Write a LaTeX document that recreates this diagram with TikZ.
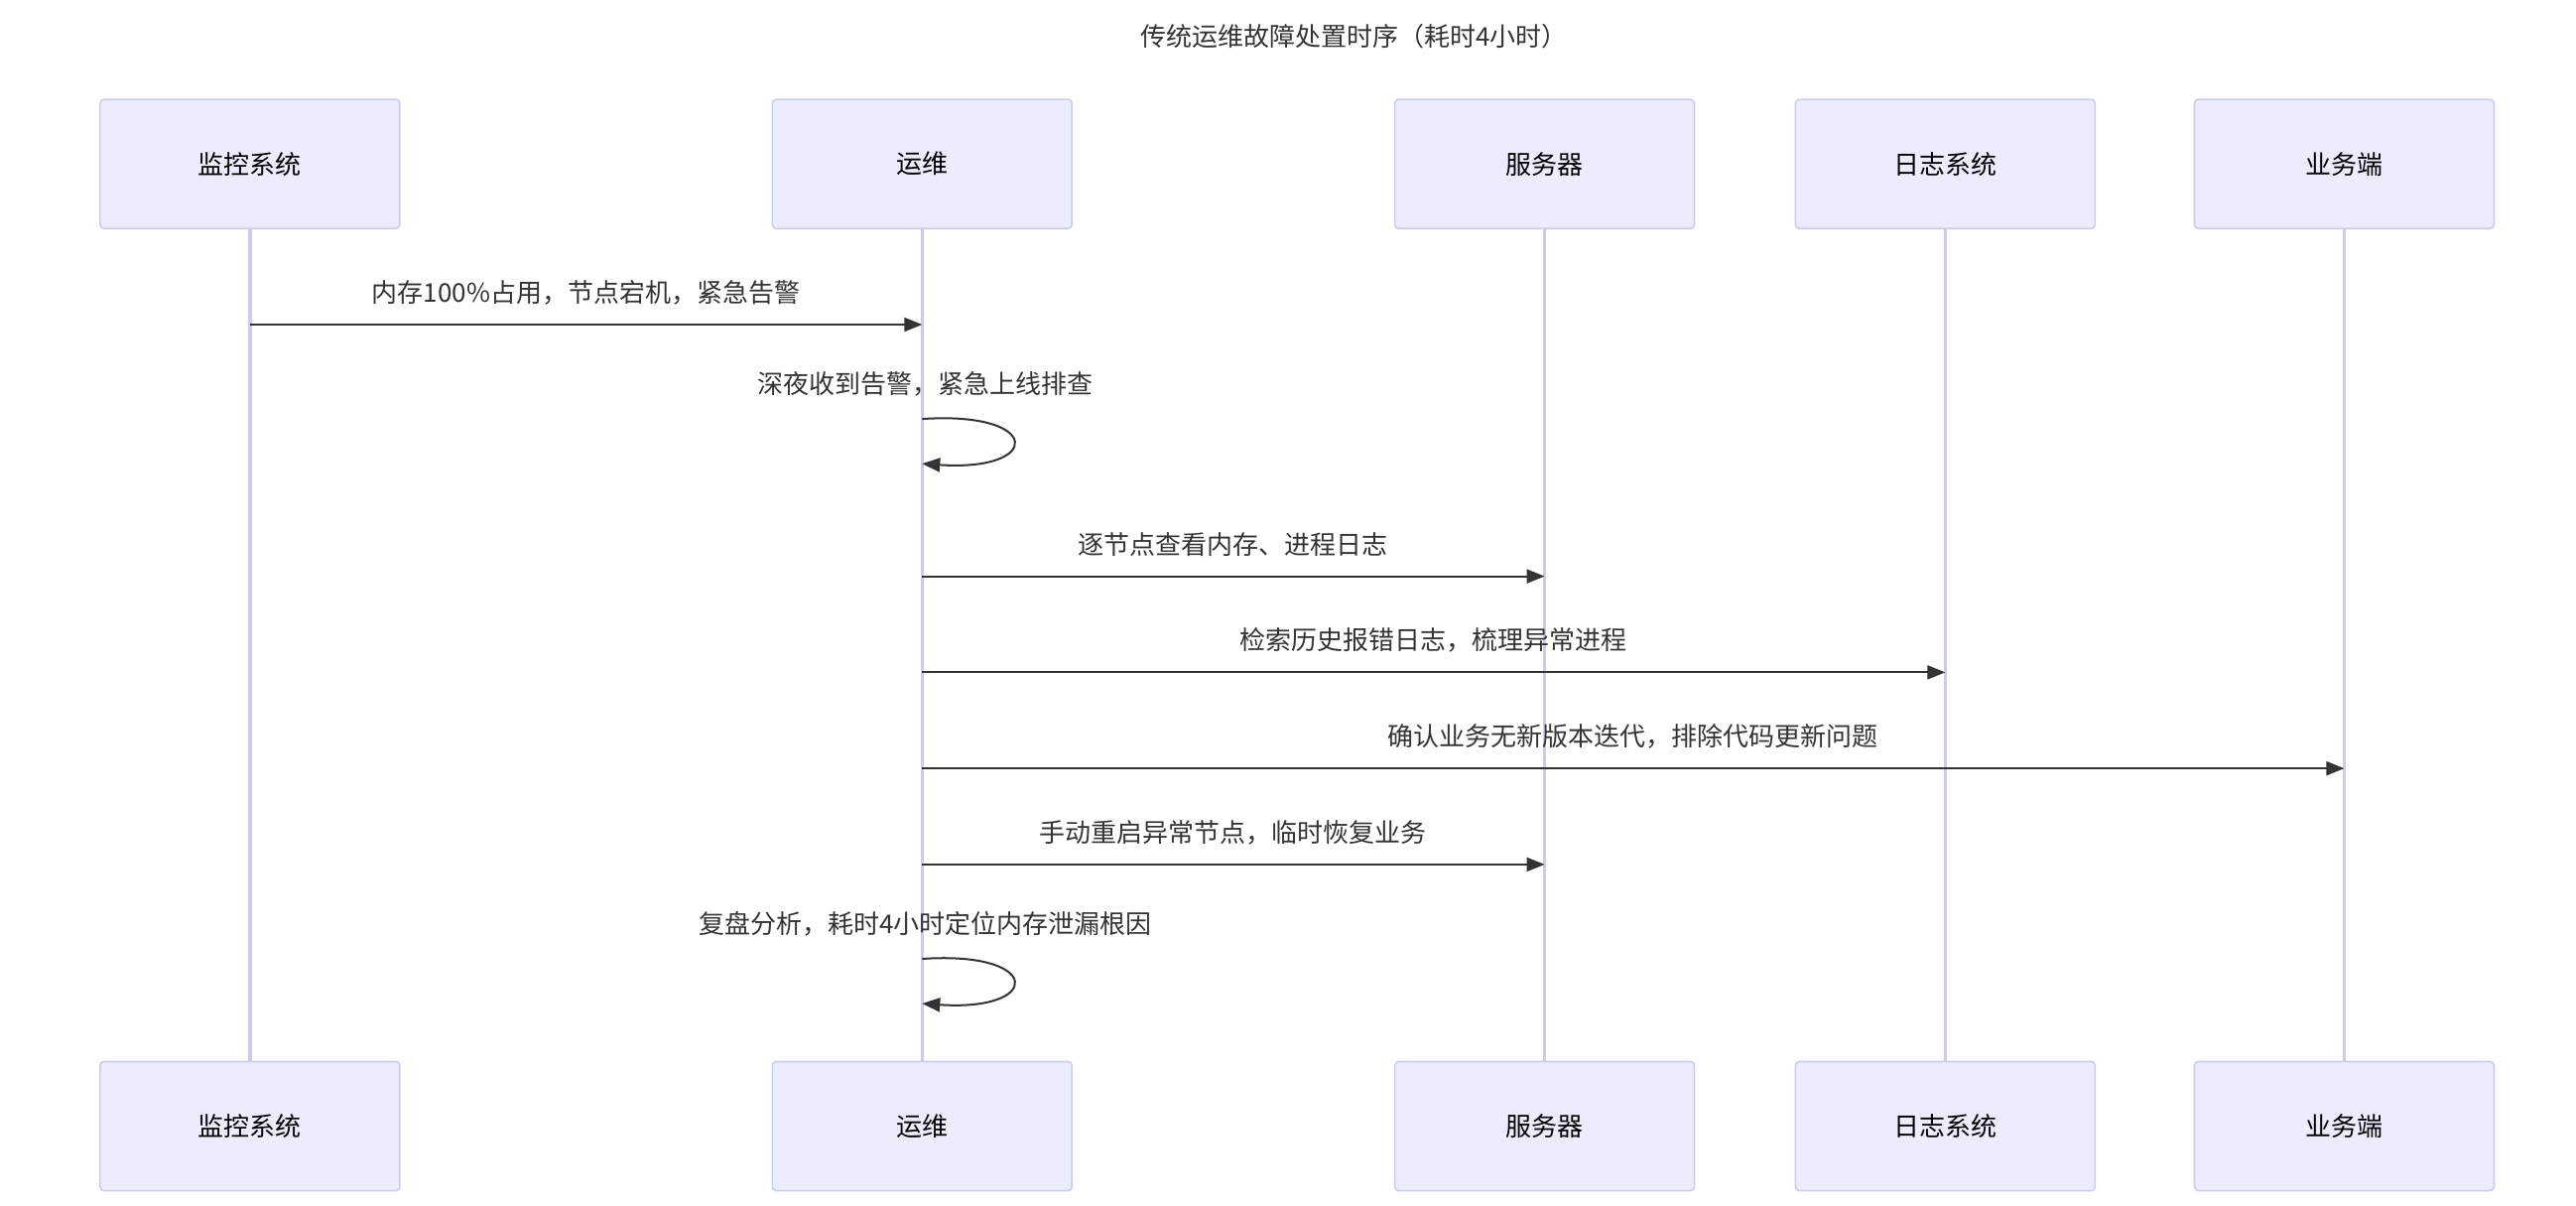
\documentclass[tikz,border=0pt]{standalone}
\usepackage{fontspec}
\setmainfont{Noto Sans CJK SC}
\usetikzlibrary{arrows.meta}
\definecolor{boxf}{HTML}{ECECFF}
\definecolor{boxd}{HTML}{CCCCEE}
\definecolor{life}{HTML}{D0C8F0}
\definecolor{ar}{HTML}{333333}
\begin{document}
\begin{tikzpicture}[x=0.8342pt,y=-0.8342pt,
 actor/.style={draw=boxd,fill=boxf,rounded corners=2pt,minimum width=181*0.8342pt,minimum height=78*0.8342pt,font=\fontsize{13}{15}\selectfont,line width=0.8pt},
 msg/.style={draw=ar,line width=1pt,-{Triangle[length=9pt,width=7pt]}},
 lbl/.style={font=\fontsize{13}{15}\selectfont,text=ar},
 lifel/.style={draw=life,line width=1.6pt}]
\useasboundingbox (0,0) rectangle (1556,728);
\node[lbl] (title) at (818,22) {传统运维故障处置时序（耗时4小时）};
\foreach \n/\x/\t in {a/151/监控系统,b/557/运维,c/933/服务器,d/1175/日志系统,e/1416/业务端}{
 \node[actor] (\n t) at (\x,99) {\t};
 \node[actor] (\n b) at (\x,680) {\t};
 \draw[lifel] (\n t.south) -- (\n b.north);
}
\coordinate (a1) at (151,196); \coordinate (b1) at (557,196);
\draw[msg] (a1) -- (b1) node[lbl,midway,above=6pt] {内存100\%占用，节点宕机，紧急告警};
\node[lbl] (l2) at (559,232) {深夜收到告警，紧急上线排查};
\coordinate (s1) at (557,253); \coordinate (s1e) at (557,280);
\draw[msg] (s1) .. controls (630,248) and (630,285) .. (s1e);
\foreach \y/\x/\t in {348/933/逐节点查看内存、进程日志,406/1175/检索历史报错日志，梳理异常进程,464/1416/确认业务无新版本迭代，排除代码更新问题,522/933/手动重启异常节点，临时恢复业务}{
 \coordinate (p\y) at (557,\y); \coordinate (q\y) at (\x,\y);
 \draw[msg] (p\y) -- (q\y) node[lbl,midway,above=6pt] {\t};
}
\node[lbl] (l7) at (559,558) {复盘分析，耗时4小时定位内存泄漏根因};
\coordinate (s2) at (557,579); \coordinate (s2e) at (557,606);
\draw[msg] (s2) .. controls (630,574) and (630,611) .. (s2e);
\end{tikzpicture}
\end{document}
